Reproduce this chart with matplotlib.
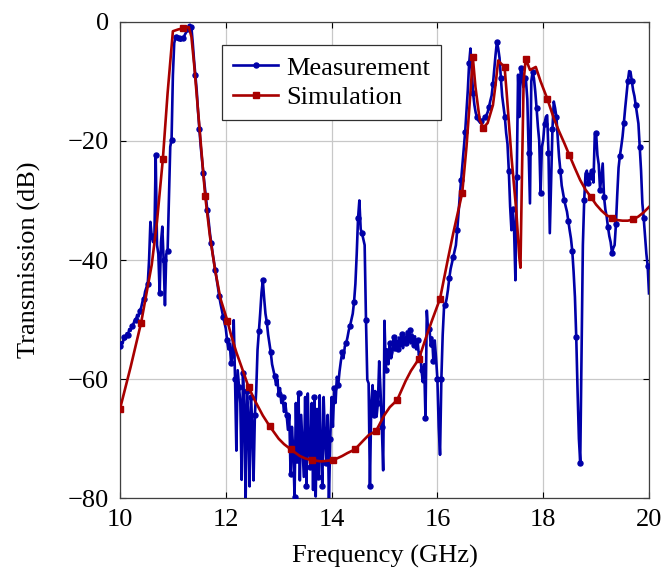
import numpy as np
import matplotlib
matplotlib.use("Agg")
import matplotlib.pyplot as plt

# measurement, sampled every 25 MHz from 10 to 20 GHz
meas_f = np.linspace(10.0, 20.0, 401)
meas_db = [
    # 10.0 - 10.975
    -54.5, -53.8, -54.0, -53.0, -53.3, -52.3, -52.6, -51.6, -51.9, -51.0,
    -50.8, -50.2, -50.1, -49.2, -49.5, -48.5, -48.0, -47.0, -46.6, -45.3,
    -44.6, -44.0, -40.0, -33.6, -36.0, -37.0, -36.5, -22.4, -37.5, -39.0,
    -45.6, -37.0, -34.4, -40.0, -47.6, -39.0, -38.5, -30.0, -21.0, -19.8,
    # 11.0 - 11.975
    -9.0, -3.6, -2.6, -2.4, -3.0, -2.7, -3.2, -2.6, -2.8, -2.2,
    -1.8, -1.2, -0.6, -0.5, -0.9, -3.5, -6.5, -9.0, -11.5, -15.0,
    -18.0, -20.8, -23.2, -25.4, -27.5, -29.5, -31.6, -33.4, -35.5, -37.2,
    -38.8, -40.2, -41.6, -43.0, -44.5, -46.0, -47.3, -48.4, -49.5, -50.5,
    # 12.0 - 12.975
    -51.5, -53.5, -55.0, -54.0, -57.3, -56.0, -50.1, -60.0, -72.0, -58.5,
    -61.3, -64.0, -76.9, -59.0, -65.0, -80.5, -62.0, -66.3, -78.0, -63.0,
    -67.4, -77.0, -66.0, -62.0, -55.1, -52.0, -49.0, -45.5, -43.4, -46.4,
    -49.0, -50.4, -52.5, -54.0, -55.5, -57.5, -58.5, -59.5, -61.0, -60.0,
    # 13.0 - 13.975
    -62.5, -61.5, -64.0, -63.0, -65.5, -64.0, -66.0, -68.5, -66.0, -76.0,
    -68.0, -71.9, -79.7, -64.0, -74.0, -62.4, -77.0, -66.0, -71.0, -76.4,
    -63.0, -78.0, -62.4, -72.0, -74.7, -64.0, -78.6, -63.0, -79.7, -65.0,
    -76.4, -62.7, -72.0, -78.0, -63.0, -70.0, -74.0, -66.0, -80.5, -70.0,
    # 14.0 - 14.975
    -63.0, -68.0, -61.5, -64.0, -59.6, -61.0, -58.7, -57.0, -55.5, -56.5,
    -54.5, -54.0, -53.0, -51.8, -51.0, -50.0, -49.0, -47.0, -44.0, -39.0,
    -33.0, -30.0, -34.8, -35.5, -36.5, -37.5, -50.0, -60.1, -60.7, -78.0,
    -64.0, -61.0, -66.0, -62.0, -66.3, -64.0, -57.0, -62.0, -68.0, -75.3,
    # 15.0 - 15.975
    -50.2, -58.5, -55.0, -57.5, -54.0, -56.5, -55.5, -53.0, -55.2, -53.5,
    -55.0, -53.0, -54.5, -52.5, -54.8, -53.0, -54.0, -52.0, -53.8, -51.8,
    -54.0, -52.5, -54.2, -52.8, -55.0, -53.5, -56.0, -55.5, -58.5, -60.5,
    -57.5, -66.5, -48.5, -52.0, -51.5, -54.5, -53.0, -57.0, -53.5, -56.5,
    # 16.0 - 16.975
    -60.0, -68.0, -72.7, -60.0, -52.6, -48.0, -47.5, -46.5, -45.0, -43.0,
    -41.5, -40.5, -39.5, -38.5, -37.5, -35.0, -32.0, -29.1, -26.5, -24.0,
    -21.5, -18.5, -15.0, -11.5, -7.0, -4.5, -8.4, -12.0, -14.0, -15.3,
    -16.0, -16.6, -16.8, -16.6, -16.5, -16.3, -16.0, -15.7, -15.2, -14.3,
    # 17.0 - 17.975
    -13.3, -12.4, -10.5, -8.0, -5.5, -3.4, -4.5, -6.1, -9.5, -12.5,
    -14.2, -16.0, -18.7, -20.5, -25.0, -31.0, -35.0, -31.5, -35.0, -43.4,
    -26.0, -8.9, -16.0, -7.8, -8.4, -11.0, -9.5, -10.0, -13.0, -22.0,
    -30.5, -10.0, -8.4, -9.5, -11.7, -14.5, -17.6, -20.0, -28.8, -21.0,
    # 18.0 - 18.975
    -19.9, -17.1, -16.0, -15.7, -22.0, -35.5, -27.0, -18.0, -13.4, -14.5,
    -16.0, -19.5, -22.7, -25.0, -27.5, -28.8, -30.0, -31.0, -31.9, -33.5,
    -35.0, -36.4, -38.5, -42.0, -46.2, -53.0, -62.0, -70.0, -74.0, -56.0,
    -37.5, -30.0, -25.5, -25.0, -27.0, -25.5, -26.5, -25.0, -27.0, -19.0,
    # 19.0 - 20.0
    -18.7, -22.4, -24.0, -28.2, -26.0, -23.8, -29.4, -31.5, -32.7, -34.5,
    -36.0, -37.0, -38.8, -38.0, -37.5, -34.0, -29.0, -24.5, -22.5, -21.0,
    -19.3, -17.0, -14.5, -12.3, -10.0, -8.3, -8.4, -10.0, -11.5, -12.5,
    -14.0, -15.5, -17.1, -21.0, -25.0, -30.5, -33.0, -36.0, -38.9, -41.0,
    -45.6,
]

sim_f = [
    10.0, 10.2, 10.4, 10.6, 10.7, 10.81, 10.9, 11.0, 11.1, 11.2,
    11.3, 11.35, 11.4, 11.5, 11.61, 11.7, 11.8, 11.9, 12.03, 12.1,
    12.2, 12.3, 12.43, 12.55, 12.7, 12.83, 13.0, 13.1, 13.23, 13.4,
    13.5, 13.63, 13.8, 14.03, 14.2, 14.3, 14.44, 14.6, 14.7, 14.84,
    15.0, 15.1, 15.24, 15.4, 15.5, 15.65, 15.8, 15.9, 16.05, 16.2,
    16.3, 16.47, 16.55, 16.62, 16.67, 16.72, 16.8, 16.87, 16.95, 17.05,
    17.1, 17.15, 17.2, 17.27, 17.31, 17.4, 17.49, 17.55, 17.57, 17.6,
    17.63, 17.67, 17.75, 17.86, 17.95, 18.08, 18.2, 18.3, 18.4, 18.49,
    18.6, 18.7, 18.8, 18.9, 19.0, 19.1, 19.2, 19.3, 19.4, 19.5,
    19.6, 19.7, 19.8, 19.9, 20.0,
]
sim_db = [
    -65.0, -58.0, -50.5, -40.8, -33.5, -23.1, -12.0, -1.6, -1.3, -1.1,
    -0.9, -2.5, -7.0, -17.5, -29.2, -36.0, -41.8, -46.5, -50.2, -52.6,
    -55.5, -58.0, -61.3, -63.6, -66.1, -67.9, -70.0, -70.9, -71.8, -72.9,
    -73.3, -73.6, -73.8, -73.6, -72.9, -72.4, -71.8, -70.3, -69.4, -68.7,
    -66.0, -64.7, -63.5, -60.3, -58.6, -56.6, -52.6, -50.1, -46.5, -39.8,
    -35.5, -28.7, -21.0, -12.5, -6.0, -11.0, -16.5, -17.8, -17.0, -14.0,
    -10.5, -6.5, -7.0, -7.6, -12.0, -22.7, -31.6, -39.7, -41.3, -25.0,
    -10.0, -6.2, -8.1, -7.6, -10.0, -13.0, -16.2, -18.4, -20.4, -22.3,
    -24.6, -26.6, -28.2, -29.4, -30.7, -31.7, -32.5, -32.9, -33.3, -33.4,
    -33.4, -33.2, -32.7, -32.0, -31.1,
]
sim_marks = [10.0, 10.4, 10.81, 11.2, 11.61, 12.03, 12.43, 12.83, 13.23, 13.63,
             14.03, 14.44, 14.84, 15.24, 15.65, 16.05, 16.47, 16.67, 16.87, 17.27,
             17.67, 18.08, 18.49, 18.9, 19.3, 19.7]

x_ticks = [10, 12, 14, 16, 18, 20]
y_ticks = [0, -20, -40, -60, -80]

blue = "#0000a8"
red = "#a80000"

plt.rcParams["font.family"] = ["Liberation Serif", "DejaVu Serif"]
plt.rcParams["font.size"] = 19

fig = plt.figure(figsize=(6.64, 5.71), dpi=100)
ax = fig.add_axes([0.1807, 0.1273, 0.7967, 0.8347])

sim_every = [i for i, f in enumerate(sim_f) if f in sim_marks]
ax.plot(meas_f, meas_db, color=blue, linewidth=1.9, marker="o", markersize=3.6,
        markevery=3, label="Measurement", zorder=3)
ax.plot(sim_f, sim_db, color=red, linewidth=1.9, marker="s", markersize=4.0,
        markevery=sim_every, label="Simulation", zorder=4)

ax.set_xlim(10, 20)
ax.set_ylim(-80, 0)
ax.set_xticks(x_ticks)
ax.set_yticks(y_ticks)
ax.set_yticklabels(["0", "\u221220", "\u221240", "\u221260", "\u221280"])
ax.grid(True, color="#c8c8c8", linewidth=0.9)
ax.set_axisbelow(True)
ax.tick_params(direction="in", top=True, right=True, length=4, width=0.8,
               pad=8, labelsize=19)
for s in ax.spines.values():
    s.set_color("#404040")
    s.set_linewidth(0.9)

ax.set_xlabel("Frequency (GHz)", labelpad=10)
ax.set_ylabel("Transmission (dB)", labelpad=19)

leg = ax.legend(loc="upper left", bbox_to_anchor=(0.193, 0.951), fancybox=False,
                framealpha=1, edgecolor="#303030", borderpad=0.42,
                handlelength=1.7, handletextpad=0.3, labelspacing=0.22,
                borderaxespad=0, numpoints=1)
leg.get_frame().set_linewidth(0.9)

fig.savefig("out.png", dpi=100)
